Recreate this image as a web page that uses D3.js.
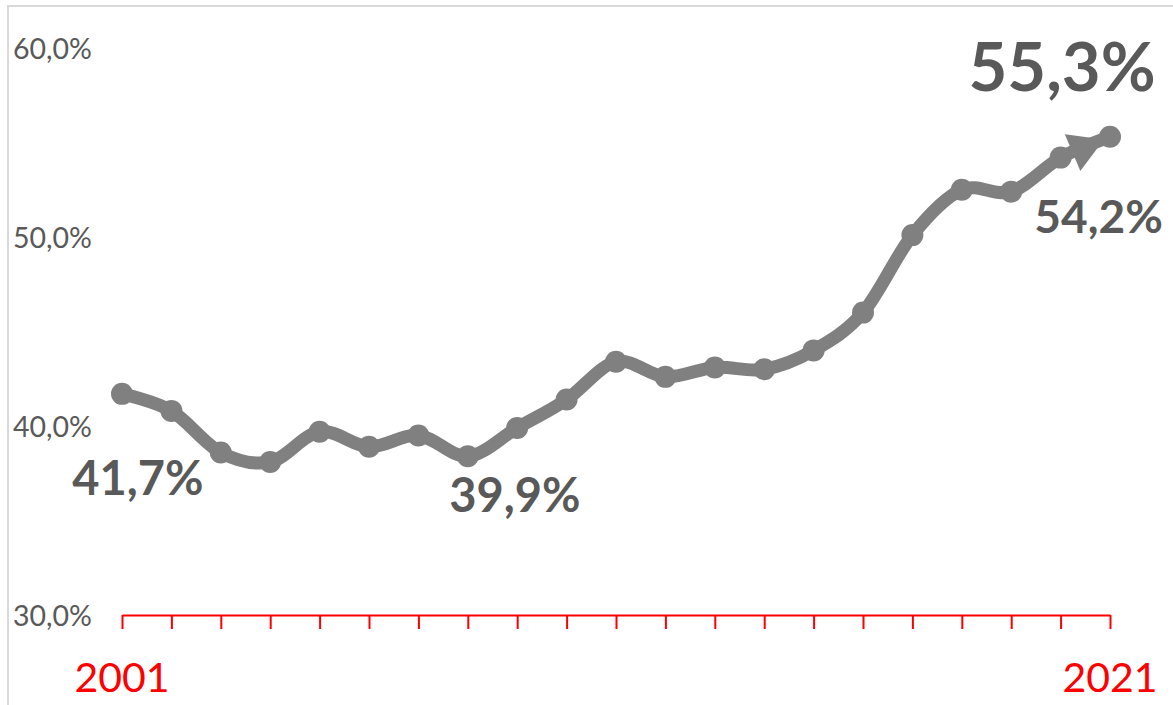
<!DOCTYPE html>
<html>
<head>
<meta charset="utf-8">
<script src="https://cdn.jsdelivr.net/npm/d3@7"></script>
<style>
  html, body { margin: 0; padding: 0; background: #fff; }
  svg { display: block; }
</style>
</head>
<body>
<svg id="chart" width="1173" height="705"></svg>
<script>
const years = [2001,2002,2003,2004,2005,2006,2007,2008,2009,2010,2011,2012,2013,2014,2015,2016,2017,2018,2019,2020,2021];
const values = [41.7,40.8,38.6,38.1,39.7,38.9,39.5,38.4,39.9,41.4,43.4,42.6,43.1,43.0,44.0,46.0,50.1,52.5,52.4,54.2,55.3];
const yTicks = [30,40,50,60];
const yTickLabels = ["30,0%","40,0%","50,0%","60,0%"];
const xLabelYears = [2001,2021];
const xLabels = ["2001","2021"];
const annotYears = [2001,2008,2021,2020];
const annotTexts = ["41,7%","39,9%","55,3%","54,2%"];

const W = 1173, H = 705;
const svg = d3.select("#chart");
const font = "Lato, Carlito, Calibri, 'Open Sans', sans-serif";

// outer light border
svg.append("rect").attr("x", 8).attr("y", 6).attr("width", W + 10).attr("height", H + 10)
  .attr("fill", "none").attr("stroke", "#d9d9d9").attr("stroke-width", 2);

const x = d3.scaleLinear().domain([2001, 2021]).range([122, 1110]);
const y = d3.scaleLinear().domain([30, 60]).range([615, 48]);

// y labels (no axis line)
const yAxis = d3.axisLeft(y).tickValues(yTicks).tickSize(0)
  .tickFormat((d, i) => yTickLabels[i]);
const gy = svg.append("g").attr("transform", "translate(13,0)").call(yAxis);
gy.select(".domain").remove();
gy.selectAll("text").attr("x", 0).attr("text-anchor", "start")
  .attr("dy", "0.36em")
  .style("font-family", font).style("font-size", "28.5px").attr("fill", "#595959");

// x axis in red with ticks
const xAxis = d3.axisBottom(x).tickValues(years).tickSize(14).tickSizeOuter(0).tickFormat("");
const gx = svg.append("g").attr("transform", `translate(0,${y(30)})`).call(xAxis);
gx.select(".domain").attr("stroke", "#ff0000").attr("stroke-width", 2);
gx.selectAll(".tick line").attr("stroke", "#ff0000").attr("stroke-width", 2);

svg.append("g").selectAll("text").data(xLabelYears).join("text")
  .attr("x", d => x(d)).attr("y", 692)
  .attr("text-anchor", "middle")
  .style("font-family", font).style("font-size", "41px")
  .attr("fill", "#ff0000")
  .text((d, i) => xLabels[i]);

// line
const pts = years.map((yr, i) => [x(yr), y(values[i])]);
const line = d3.line().curve(d3.curveCardinal.tension(0));
svg.append("path").attr("d", line(pts))
  .attr("fill", "none").attr("stroke", "#808080").attr("stroke-width", 13)
  .attr("stroke-linejoin", "round").attr("stroke-linecap", "round");

// arrow head on last segment
const n = pts.length;
const p0 = pts[n - 2], p1 = pts[n - 1];
const dx = p1[0] - p0[0], dy = p1[1] - p0[1];
const len = Math.hypot(dx, dy);
const ux = dx / len, uy = dy / len;
const px = -uy, py = ux;
const baseC = [p0[0] + ux * 13, p0[1] + uy * 13];
const apex = [p0[0] + ux * 47, p0[1] + uy * 47];
const hw = 20;
svg.append("polygon")
  .attr("points", [[baseC[0] + px * hw, baseC[1] + py * hw], apex, [baseC[0] - px * hw, baseC[1] - py * hw]].map(p => p.join(",")).join(" "))
  .attr("fill", "#808080");

// markers
svg.append("g").selectAll("circle").data(pts).join("circle")
  .attr("cx", d => d[0]).attr("cy", d => d[1]).attr("r", 11)
  .attr("fill", "#808080");

// annotations
const annotDx = [16, 47, -48, 38];
const annotDy = [101, 56, -46, 75];
const annotSize = [47, 47, 67, 46];
annotYears.forEach((yr, i) => {
  const idx = years.indexOf(yr);
  svg.append("text")
    .attr("x", x(yr) + annotDx[i]).attr("y", y(values[idx]) + annotDy[i])
    .attr("text-anchor", "middle")
    .style("font-family", font).style("font-weight", "bold")
    .style("font-size", annotSize[i] + "px")
    .attr("fill", "#595959")
    .text(annotTexts[i]);
});
</script>
</body>
</html>
